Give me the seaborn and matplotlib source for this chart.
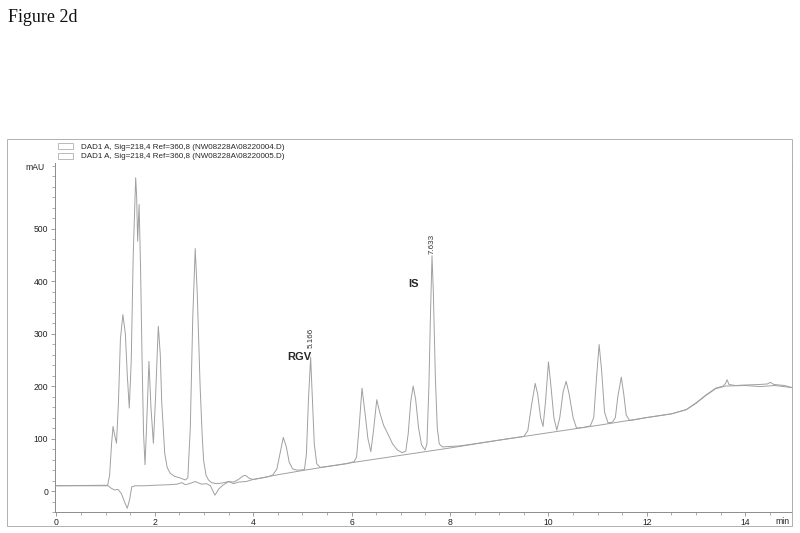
import matplotlib
matplotlib.use("Agg")
from matplotlib import pyplot as plt
from matplotlib.patches import Patch, Rectangle
import matplotlib.ticker as mticker
import pandas as pd
import seaborn as sns

# sample run (…0004.D): time (min), signal (mAU)
sample_t = [0, 1.04, 1.08, 1.12, 1.15, 1.18, 1.22, 1.26, 1.30, 1.35, 1.40, 1.44, 1.48,
            1.52, 1.56, 1.61, 1.63, 1.65, 1.68, 1.71, 1.74, 1.77, 1.80, 1.83, 1.88,
            1.92, 1.97, 2.01, 2.07, 2.11, 2.14, 2.20, 2.25, 2.31, 2.40, 2.51, 2.62,
            2.67, 2.72, 2.77, 2.82, 2.86, 2.92, 2.96, 2.99, 3.04, 3.09, 3.15, 3.25,
            3.35, 3.50, 3.60, 3.70, 3.78, 3.84, 3.92, 4.00, 4.30, 4.40, 4.48, 4.54,
            4.61, 4.67, 4.73, 4.80, 4.88, 4.98, 5.04, 5.08, 5.12, 5.166, 5.20, 5.24,
            5.29, 5.36, 5.60, 5.90, 6.05, 6.10, 6.15, 6.21, 6.27, 6.33, 6.39, 6.45,
            6.51, 6.57, 6.65, 6.73, 6.83, 6.93, 7.03, 7.10, 7.15, 7.20, 7.25, 7.30,
            7.36, 7.42, 7.49, 7.53, 7.57, 7.60, 7.633, 7.66, 7.70, 7.74, 7.78, 7.84,
            8.20, 8.50, 9.00, 9.50, 9.58, 9.65, 9.73, 9.78, 9.84, 9.89, 9.94, 10.00,
            10.05, 10.11, 10.17, 10.23, 10.30, 10.36, 10.42, 10.50, 10.57, 10.70,
            10.85, 10.92, 10.98, 11.03, 11.08, 11.14, 11.21, 11.30, 11.36, 11.41,
            11.48, 11.53, 11.58, 11.65, 12.00, 12.50, 12.80, 13.00, 13.20, 13.40,
            13.55, 13.60, 13.63, 13.67, 13.80, 14.00, 14.30, 14.45, 14.51, 14.58,
            14.80, 14.95]
sample_v = [10, 11, 30, 90, 123, 108, 91, 170, 290, 336, 300, 220, 158,
            250, 450, 597, 560, 476, 546, 420, 250, 110, 50, 120, 247,
            160, 91, 170, 314, 260, 168, 72, 45, 34, 28, 25, 21,
            25, 120, 330, 462, 380, 199, 110, 59, 30, 21, 16, 14,
            15, 18, 17, 22, 28, 30, 24, 22, 27, 31, 42, 70,
            102, 85, 55, 42, 40, 40, 41, 70, 170, 255, 180, 90,
            52, 45, 48, 52, 56, 65, 120, 196, 150, 100, 75, 120,
            174, 150, 125, 110, 90, 78, 73, 76, 110, 170, 200, 175,
            120, 88, 78, 90, 200, 330, 448, 380, 220, 120, 90, 84,
            86, 90, 97, 104, 115, 160, 205, 185, 140, 123, 170, 246,
            200, 140, 116, 140, 190, 209, 185, 140, 120, 121,
            124, 140, 220, 279, 230, 150, 130, 131, 140, 180,
            217, 185, 145, 134, 140, 147, 155, 168, 183, 196,
            200, 205, 212, 203, 201, 202, 203, 204, 207, 203,
            201, 197]

# blank run (…0005.D)
blank_t = [0, 1.05, 1.10, 1.18, 1.25, 1.32, 1.38, 1.44, 1.49, 1.53, 1.60, 1.80, 2.00,
           2.30, 2.45, 2.55, 2.62, 2.70, 2.82, 2.95, 3.05, 3.13, 3.22, 3.30, 3.38,
           3.50, 3.60, 3.70, 3.85, 4.00, 4.50, 5.00, 6.00, 7.00, 8.00, 9.00, 10.00,
           11.00, 12.00, 12.50, 12.80, 13.00, 13.20, 13.40, 13.60, 14.00, 14.30,
           14.60, 14.95]
blank_v = [10, 10, 6, 2, 3, -5, -20, -33, -15, 8, 10, 10, 11,
           12, 13, 16, 12, 14, 18, 13, 14, 10, -8, 4, 11,
           18, 14, 17, 18, 22, 31, 39, 54, 68, 82, 97, 111,
           125, 140, 147, 155, 167, 182, 195, 200, 201, 199,
           201, 197]

legend_labels = [r"DAD1 A, Sig=218,4 Ref=360,8 (NW08228A\08220004.D)",
                 r"DAD1 A, Sig=218,4 Ref=360,8 (NW08228A\08220005.D)"]
peak_times = [5.166, 7.633]
peak_label_y = [273, 452]

df = pd.concat([
    pd.DataFrame({"t": sample_t, "mAU": sample_v, "run": legend_labels[0]}),
    pd.DataFrame({"t": blank_t, "mAU": blank_v, "run": legend_labels[1]}),
])

sns.set_theme(style="white")
plt.rcParams["font.family"] = ["Liberation Sans", "DejaVu Sans"]

line_c = "#a0a0a0"
axis_c = "#8c8c8c"

fig = plt.figure(figsize=(8, 5.33), dpi=100)
ax = fig.add_axes([54.5 / 800, 21 / 533, (792 - 54.5) / 800, (512 - 163) / 533])

sns.lineplot(data=df, x="t", y="mAU", hue="run", units="run", estimator=None,
             palette=[line_c, line_c], linewidth=0.7, legend=False, ax=ax, sort=False)

ax.set_xlim(-0.04, 14.95)
ax.set_ylim(-40, 625)
ax.set_xlabel("")
ax.set_ylabel("")

ax.spines["top"].set_visible(False)
for s in ["left", "bottom", "right"]:
    ax.spines[s].set_color(axis_c)
    ax.spines[s].set_linewidth(0.7)

ax.xaxis.set_major_locator(mticker.MultipleLocator(2))
ax.xaxis.set_minor_locator(mticker.MultipleLocator(0.5))
ax.yaxis.set_major_locator(mticker.FixedLocator([0, 100, 200, 300, 400, 500]))
ax.yaxis.set_minor_locator(mticker.MultipleLocator(20))
ax.tick_params(which="both", direction="out", colors=axis_c, labelcolor="#222222",
               labelsize=6.2, bottom=True, left=True)
ax.tick_params(which="major", length=3, width=0.6, pad=1.5)
ax.tick_params(which="minor", length=2, width=0.5)

# peak annotations
for t, y in zip(peak_times, peak_label_y):
    ax.text(t, y, f"{t:.3f}", rotation=90, ha="center", va="bottom",
            fontsize=5.8, color="#333333")
ax.text(4.94, 256, "RGV", fontsize=8, fontweight="bold", ha="center", va="center")
ax.text(7.26, 395, "IS", fontsize=8, fontweight="bold", ha="center", va="center")

# unit labels
fig.text(45 / 800, 1 - 167 / 533, "mAU", fontsize=6.2, ha="right", va="center", color="#222222")
fig.text(790 / 800, 1 - 521 / 533, "min", fontsize=6.2, ha="right", va="center", color="#222222")

# legend boxes
handles = [Patch(facecolor="white", edgecolor="#b0b0b0", linewidth=0.6) for _ in legend_labels]
ax.legend(handles, legend_labels, loc="upper left", bbox_to_anchor=(52 / 800, 1 - 137 / 533),
          bbox_transform=fig.transFigure, frameon=False, fontsize=5.8,
          handlelength=1.9, handleheight=0.8, handletextpad=1.0, labelspacing=0.25,
          borderpad=0.2)

# outer frame
fig.patches.append(Rectangle((7 / 800, 1 - 526 / 533), (792 - 7) / 800, (526 - 139) / 533,
                             transform=fig.transFigure, fill=False, edgecolor="#b0b0b0",
                             linewidth=0.7))

fig.text(8 / 800, 1 - 18 / 533, "Figure 2d", fontsize=13, family="Liberation Serif",
         ha="left", va="center", color="#111111")

fig.savefig("out.png", dpi=100)
